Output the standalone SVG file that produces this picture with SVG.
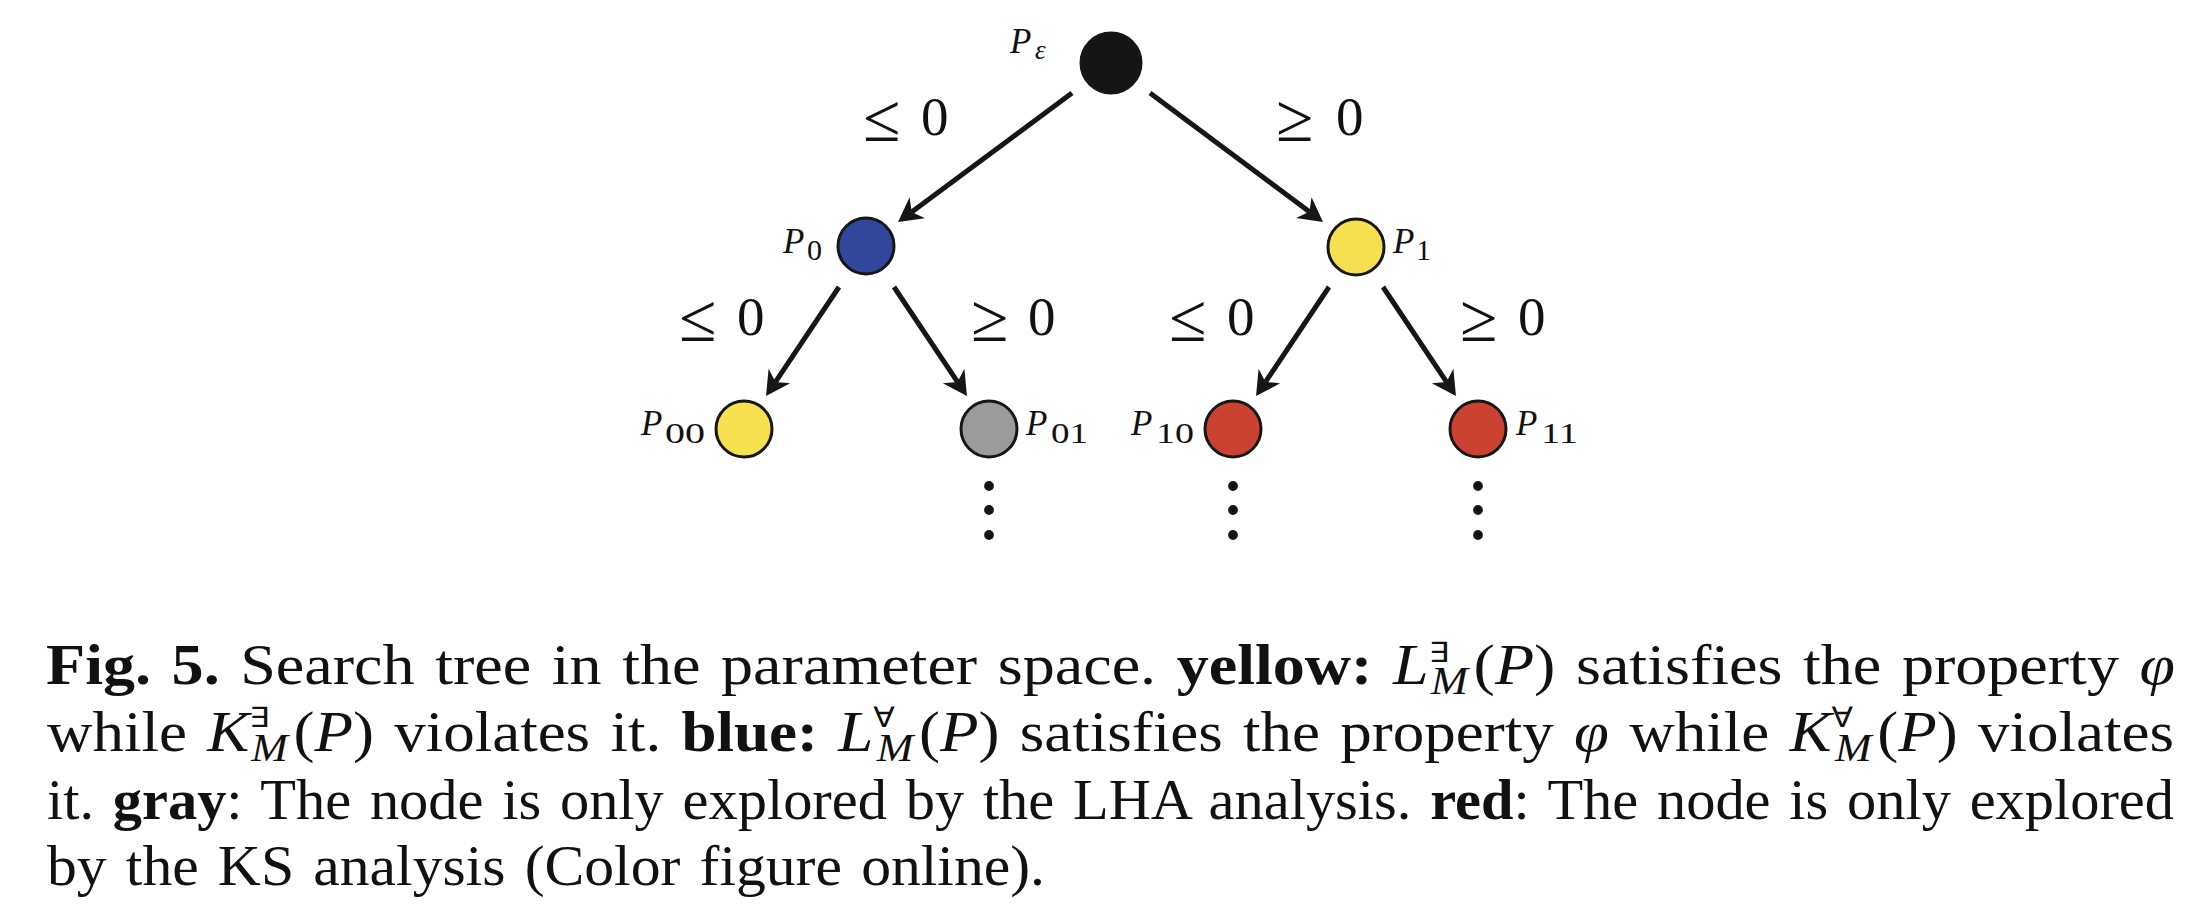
<svg xmlns="http://www.w3.org/2000/svg" width="2198" height="912" viewBox="0 0 2198 912">
<style>
.node circle{stroke:#161616;stroke-width:3}
.edge{stroke:#161616;stroke-width:5;fill:none;marker-end:url(#arr)}
.lbl{font-family:"Liberation Serif",serif;font-size:55px;fill:#111}
.rel{font-size:68px}
.nl{font-family:"Liberation Serif",serif;font-size:35px;font-style:italic;fill:#111}
.sub{font-family:"Liberation Serif",serif;font-size:30px;font-style:normal;fill:#111}
.dot{fill:#111}
.cap{font-family:"Liberation Serif",serif;font-size:56px;fill:#111;word-spacing:4px}
.b{font-weight:bold}
.i{font-style:italic}
.q{font-family:"DejaVu Sans",sans-serif;font-size:28px}
.m{font-style:italic;font-size:39px}
</style>
<defs>
<marker id="arr" markerUnits="userSpaceOnUse" viewBox="-10 -15 30 30" refX="0" refY="0" markerWidth="30" markerHeight="30" orient="auto" overflow="visible">
<path d="M17,0 L-7,-13 L0,0 L-7,13 Z" fill="#161616"/>
</marker>
</defs>
<rect width="2198" height="912" fill="#fff"/>

<g id="connectors">
<line class="edge" x1="1072" y1="93" x2="911.7" y2="211.9"/>
<line class="edge" x1="1150" y1="93" x2="1309.4" y2="211.8"/>
<line class="edge" x1="839" y1="287" x2="775.5" y2="381.9"/>
<line class="edge" x1="894" y1="287" x2="957.5" y2="381.9"/>
<line class="edge" x1="1329" y1="287" x2="1265.5" y2="381.9"/>
<line class="edge" x1="1383" y1="287" x2="1446.5" y2="381.9"/>
</g>

<g id="edge-labels">
<text class="lbl"><tspan class="rel" x="863" y="141">≤</tspan><tspan x="921" y="135">0</tspan></text>
<text class="lbl"><tspan class="rel" x="1276" y="141">≥</tspan><tspan x="1336" y="135">0</tspan></text>
<text class="lbl"><tspan class="rel" x="679" y="341">≤</tspan><tspan x="737" y="335">0</tspan></text>
<text class="lbl"><tspan class="rel" x="971" y="341">≥</tspan><tspan x="1028" y="335">0</tspan></text>
<text class="lbl"><tspan class="rel" x="1169" y="341">≤</tspan><tspan x="1227" y="335">0</tspan></text>
<text class="lbl"><tspan class="rel" x="1460" y="341">≥</tspan><tspan x="1518" y="335">0</tspan></text>
</g>

<g id="node-Peps" class="node">
<circle cx="1111" cy="63" r="30" fill="#141414" stroke="none"/>
<text class="nl" x="1010" y="53">P<tspan x="1035" y="59" font-size="27">ε</tspan></text>
</g>
<g id="node-P0" class="node">
<circle cx="866" cy="246" r="28" fill="#33479a"/>
<text class="nl" x="783" y="253">P<tspan class="sub" x="807" y="260">0</tspan></text>
</g>
<g id="node-P1" class="node">
<circle cx="1356" cy="247" r="28" fill="#f6e04f"/>
<text class="nl" x="1393" y="253">P<tspan class="sub" x="1416" y="260">1</tspan></text>
</g>
<g id="node-P00" class="node">
<circle cx="744" cy="429" r="28" fill="#f6e04f"/>
<text class="nl" x="641" y="435">P<tspan class="sub" x="665" y="443" textLength="40" lengthAdjust="spacingAndGlyphs">00</tspan></text>
</g>
<g id="node-P01" class="node">
<circle cx="989" cy="429" r="28" fill="#9b9b9b"/>
<text class="nl" x="1026" y="435">P<tspan class="sub" x="1051" y="443" textLength="37" lengthAdjust="spacingAndGlyphs">01</tspan></text>
<circle class="dot" cx="989" cy="486" r="3.4"/>
<circle class="dot" cx="989" cy="510" r="3.4"/>
<circle class="dot" cx="989" cy="535" r="3.4"/>
</g>
<g id="node-P10" class="node">
<circle cx="1233" cy="429" r="28" fill="#cc4231"/>
<text class="nl" x="1131" y="435">P<tspan class="sub" x="1156" y="443" textLength="38" lengthAdjust="spacingAndGlyphs">10</tspan></text>
<circle class="dot" cx="1233" cy="486" r="3.4"/>
<circle class="dot" cx="1233" cy="510" r="3.4"/>
<circle class="dot" cx="1233" cy="535" r="3.4"/>
</g>
<g id="node-P11" class="node">
<circle cx="1478" cy="429" r="28" fill="#cc4231"/>
<text class="nl" x="1516" y="435">P<tspan class="sub" x="1541" y="443" textLength="37" lengthAdjust="spacingAndGlyphs">11</tspan></text>
<circle class="dot" cx="1478" cy="486" r="3.4"/>
<circle class="dot" cx="1478" cy="510" r="3.4"/>
<circle class="dot" cx="1478" cy="535" r="3.4"/>
</g>

<g id="caption">
<text class="cap" x="46" y="684" textLength="2129" lengthAdjust="spacingAndGlyphs"><tspan class="b">Fig. 5.</tspan> Search tree in the parameter space. <tspan class="b">yellow:</tspan> <tspan class="i">L</tspan><tspan class="q" dy="-22">∃</tspan><tspan class="m" dx="-16" dy="32">M</tspan><tspan dx="5" dy="-10">(</tspan><tspan class="i">P</tspan>) satisfies the property <tspan class="i">φ</tspan></text>
<text class="cap" x="47" y="751" textLength="2127" lengthAdjust="spacingAndGlyphs">while <tspan class="i">K</tspan><tspan class="q" dy="-24">∃</tspan><tspan class="m" dx="-16" dy="34">M</tspan><tspan dx="5" dy="-10">(</tspan><tspan class="i">P</tspan>) violates it. <tspan class="b">blue:</tspan> <tspan class="i">L</tspan><tspan class="q" dy="-24">∀</tspan><tspan class="m" dx="-16" dy="34">M</tspan><tspan dx="5" dy="-10">(</tspan><tspan class="i">P</tspan>) satisfies the property <tspan class="i">φ</tspan> while <tspan class="i">K</tspan><tspan class="q" dy="-24">∀</tspan><tspan class="m" dx="-16" dy="34">M</tspan><tspan dx="5" dy="-10">(</tspan><tspan class="i">P</tspan>) violates</text>
<text class="cap" x="47" y="818.5" textLength="2127" lengthAdjust="spacingAndGlyphs">it. <tspan class="b">gray</tspan>: The node is only explored by the LHA analysis. <tspan class="b">red</tspan>: The node is only explored</text>
<text class="cap" x="47" y="885" textLength="998" lengthAdjust="spacingAndGlyphs">by the KS analysis (Color figure online).</text>
</g>
</svg>
